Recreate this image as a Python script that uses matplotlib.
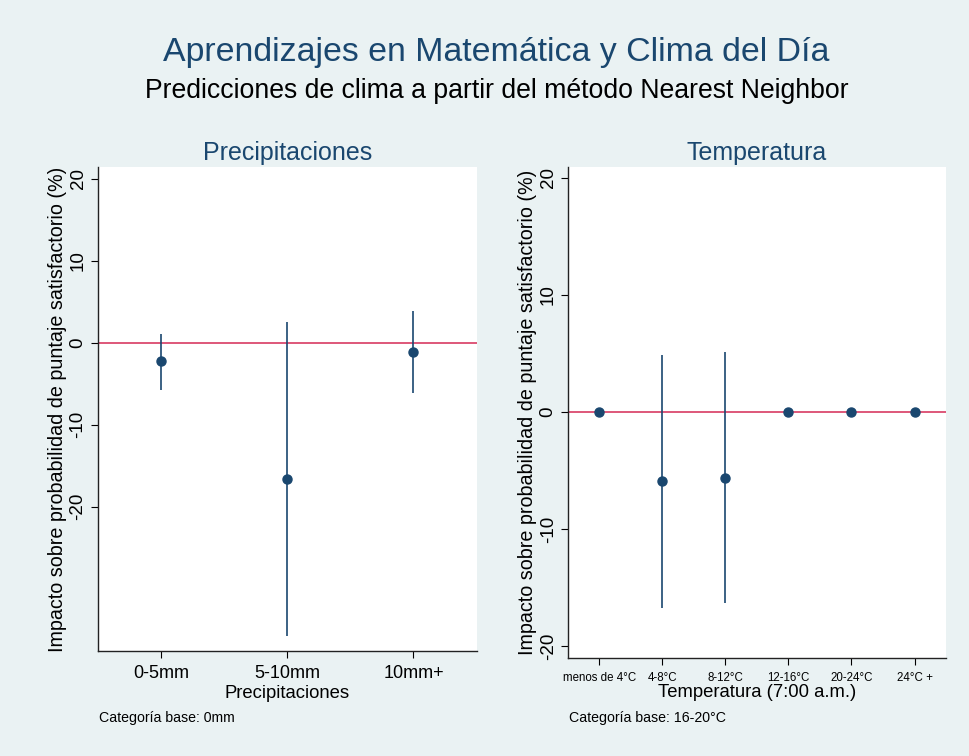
#!/usr/bin/env python3
"""Coefficient plots: math learning vs. weather of the day."""

import matplotlib.pyplot as plt
import numpy as np

plt.rcParams['font.family'] = ['Liberation Sans', 'DejaVu Sans']
plt.rcParams['axes.unicode_minus'] = False

BG = '#eaf2f3'
NAVY = '#1a476f'
RED = '#d42a55'

# Precipitation panel
precip_labels = ['0-5mm', '5-10mm', '10mm+']
precip_coef = [-2.2, -16.6, -1.1]
precip_lo = [-5.8, -35.8, -6.1]
precip_hi = [1.1, 2.5, 3.9]

# Temperature panel
temp_labels = ['menos de 4°C', '4-8°C', '8-12°C', '12-16°C', '20-24°C', '24°C +']
temp_coef = [0.0, -5.9, -5.6, 0.0, 0.0, 0.0]
temp_lo = [0.0, -16.7, -16.3, 0.0, 0.0, 0.0]
temp_hi = [0.0, 4.9, 5.1, 0.0, 0.0, 0.0]

YLABEL = 'Impacto sobre probabilidad de puntaje satisfactorio (%)'


def coef_panel(ax, labels, coef, lo, hi, ylim, title, xlabel, xtick_size, note, xlab_y, note_y):
	x = np.arange(1, len(labels) + 1)
	ax.set_facecolor('white')
	ax.axhline(0, color=RED, linewidth=1.1, zorder=1)
	ax.vlines(x, lo, hi, color=NAVY, linewidth=1.2, zorder=2)
	ax.plot(x, coef, 'o', color=NAVY, markersize=6.5, zorder=3)

	ax.set_xlim(0.5, len(labels) + 0.5)
	ax.set_ylim(*ylim)
	ax.set_xticks(x)
	ax.set_xticklabels(labels, fontsize=xtick_size)
	ax.set_yticks([20, 10, 0, -10, -20])
	ax.tick_params(axis='y', labelsize=13.5, labelrotation=90, length=5, pad=3)
	ax.tick_params(axis='x', length=5, pad=5)
	for lab in ax.get_yticklabels():
		lab.set_va('center')

	for side in ('top', 'right'):
		ax.spines[side].set_visible(False)
	for side in ('left', 'bottom'):
		ax.spines[side].set_color('#222222')
		ax.spines[side].set_linewidth(1.0)

	ax.set_title(title, fontsize=18, color=NAVY, pad=5)
	ax.set_xlabel(xlabel, fontsize=13.3)
	ax.xaxis.set_label_coords(0.5, xlab_y)
	ax.set_ylabel(YLABEL, fontsize=14.2)
	ax.yaxis.set_label_coords(-0.08, 0.5)
	ax.text(0.004, note_y, note, transform=ax.transAxes, fontsize=10.2, va='center', ha='left')


fig = plt.figure(figsize=(9.7, 7.56), dpi=100, facecolor=BG)

ax1 = fig.add_axes([0.1007, 0.1389, 0.3907, 0.640])
coef_panel(ax1, precip_labels, precip_coef, precip_lo, precip_hi, (-37.6, 21.4),
	'Precipitaciones', 'Precipitaciones', 13, 'Categoría base: 0mm', -0.071, -0.138)

ax2 = fig.add_axes([0.5853, 0.1296, 0.39, 0.6495])
coef_panel(ax2, temp_labels, temp_coef, temp_lo, temp_hi, (-21.0, 20.9),
	'Temperatura', 'Temperatura (7:00 a.m.)', 8.3, 'Categoría base: 16-20°C', -0.052, -0.122)

fig.text(0.512, 0.931, 'Aprendizajes en Matemática y Clima del Día', ha='center', va='center',
	fontsize=24.4, color=NAVY)
fig.text(0.512, 0.879, 'Predicciones de clima a partir del método Nearest Neighbor', ha='center',
	va='center', fontsize=19.2, color='black')

fig.savefig('out.png', dpi=100, facecolor=BG)
